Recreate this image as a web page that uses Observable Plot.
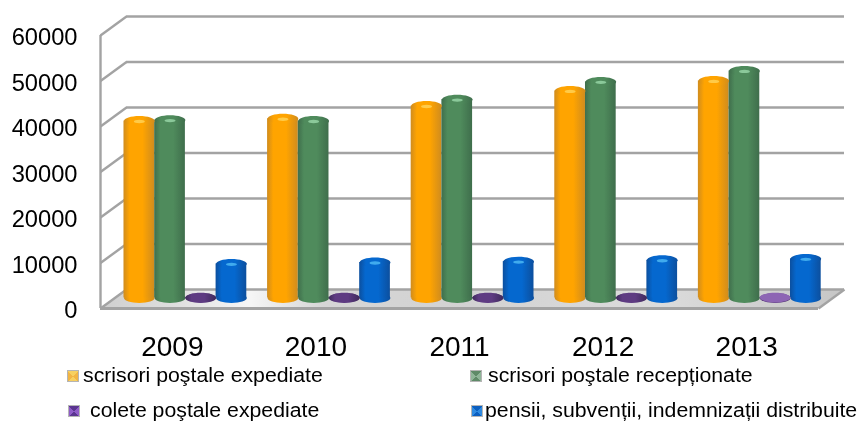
<!DOCTYPE html>
<html><head><meta charset="utf-8">
<script src="https://cdn.jsdelivr.net/npm/d3@7"></script>
<script src="https://cdn.jsdelivr.net/npm/@observablehq/plot@0.6"></script>
<style>
html,body{margin:0;padding:0;background:#fff;overflow:hidden}
#chart{position:relative;width:862px;height:421px;font-family:"Liberation Sans",Arial,sans-serif}
#chart svg{display:block;font-family:"Liberation Sans",Arial,sans-serif;filter:blur(.45px)}
.lg{position:absolute;font-size:19.5px;line-height:22px;color:#000;white-space:nowrap;filter:blur(.3px);transform:scaleX(1.09);transform-origin:left center}
.sw{position:absolute;width:10px;height:10px;border:1px solid #b5b5b5;filter:blur(.3px)}
</style></head><body><div id="chart"></div>
<script>
const years = ["2009","2010","2011","2012","2013"];
const seriesNames = ["scrisori poştale expediate","scrisori poştale recepționate","colete poştale expediate","pensii, subvenții, indemnizații distribuite"];
const expediate = [38900,39400,42200,45500,47700];
const receptionate = [39100,38900,43600,47500,49900];
const colete = [100,100,100,100,100];
const pensii = [7500,7800,8000,8300,8600];
const yTicks = [0,10000,20000,30000,40000,50000,60000];
const colorsEdge = ["#d08c1e","#3f6e4c","#3f2a5c","#0c4f9e"];
const colorsMid = ["#ffa400","#4f8b5c","#5e3b82","#0568cf"];
const colorsGlow = ["#ffd45a","#9ad8aa","#5e3b82","#4fbcf5"];
const swatchLight = ["#f2b544","#8fb598","#8f5cc8","#2f8ae0"];
const swatchDark = ["#f7d060","#5f8a68","#5a3590","#0b5fc0"];
const colorLight = "#8d65b4";
const gridColor = "#a3a3a3";

const depthX = 0.181, depthY = 4176, base = depthY/2 + 220;
const barW = 0.2138, barStart = 0.1635;
const seriesValues = [expediate, receptionate, colete, pensii];
const rows = seriesValues.flatMap((vals,s)=>vals.map((v,i)=>({s,i,v,
  x1:i+barStart+s*barW, x2:i+barStart+(s+1)*barW, xc:i+barStart+(s+.5)*barW,
  y0:base, yt:v+base})));
const ellipse = k => ({draw(ctx,size){
  const r=Math.sqrt(size/Math.PI), ry=r*k, c=0.5523;
  ctx.moveTo(-r,0);
  ctx.bezierCurveTo(-r,-c*ry,-c*r,-ry,0,-ry);
  ctx.bezierCurveTo(c*r,-ry,r,-c*ry,r,0);
  ctx.bezierCurveTo(r,c*ry,c*r,ry,0,ry);
  ctx.bezierCurveTo(-c*r,ry,-r,c*ry,-r,0);
  ctx.closePath();
}});
const defs = () => {
  const d = d3.create("svg:defs");
  colorsMid.forEach((m,s)=>{
    const g=d.append("linearGradient").attr("id","g"+s);
    [[0,colorsEdge[s]],[.2,m],[.62,m],[1,colorsEdge[s]]].forEach(([o,c])=>g.append("stop").attr("offset",o).attr("stop-color",c));
  });
  const f=d.append("linearGradient").attr("id","floor");
  [[0,"#cfcfcf"],[.1,"#dedede"],[.2,"#f6f6f6"],[.3,"#d6d6d6"],[.5,"#d2d2d2"],[.75,"#dcdcdc"],[1,"#c6c6c6"]].forEach(([o,c])=>f.append("stop").attr("offset",o).attr("stop-color",c));
  return d.node();
};
const floorPts = [{x1:0,y1:0,x2:depthX,y2:depthY},{x1:5,y1:0,x2:5+depthX,y2:depthY}];
const plot = Plot.plot({
  width:862,height:360,margin:0,
  x:{domain:[0,5+depthX],range:[100,844],axis:null},
  y:{domain:[0,60000+depthY],range:[308,16],axis:null},
  color:{type:"identity"},
  style:{background:"transparent",overflow:"visible"},
  marks:[
    defs,
    Plot.area(floorPts,{x1:"x1",y1:"y1",x2:"x2",y2:"y2",fill:"url(#floor)"}),
    Plot.ruleY(yTicks,{y:d=>d+depthY,x1:depthX,x2:5+depthX,stroke:gridColor,strokeWidth:2.4}),
    Plot.link(yTicks,{x1:0,x2:depthX,y1:d=>d,y2:d=>d+depthY,stroke:gridColor,strokeWidth:2.4}),
    Plot.ruleX([0],{y1:0,y2:60000,stroke:gridColor,strokeWidth:2.4}),
    Plot.ruleY([0],{x1:0,x2:5,stroke:gridColor,strokeWidth:2.8}),
    Plot.link([5],{x1:d=>d,x2:d=>d+depthX,y1:0,y2:depthY,stroke:gridColor,strokeWidth:2.4}),
    Plot.dot(rows,{x:"xc",y:"y0",r:15.35,symbol:ellipse(.32),fill:d=>`url(#g${d.s})`}),
    Plot.rect(rows,{x1:"x1",x2:"x2",y1:"y0",y2:"yt",fill:d=>`url(#g${d.s})`}),
    Plot.dot(rows,{x:"xc",y:"yt",r:15.35,symbol:ellipse(.32),fill:d=>d.s===2&&d.i===4?colorLight:`url(#g${d.s})`}),
    Plot.dot(rows.filter(d=>d.s!==2),{x:"xc",y:"yt",dy:0.5,r:5.5,symbol:ellipse(.3),fill:d=>colorsGlow[d.s],fillOpacity:.8}),
    Plot.text(yTicks,{x:0,y:d=>d,dx:-23,dy:2,text:d=>String(d),textAnchor:"end",fontSize:23.7,fill:"#000"}),
    Plot.text(years,{x:(d,i)=>i+.5,y:0,dy:39,text:d=>d,fontSize:28,fill:"#000"})
  ]
});
const host=document.getElementById("chart");
host.append(plot);
const lgPos=[[67,370,83,364],[470,370,488,364],[68,405,90,399],[471,405,485,399]];
seriesNames.forEach((n,i)=>{
  const [sx,sy,tx,ty]=lgPos[i];
  const sw=document.createElement("div");sw.className="sw";sw.style.left=sx+"px";sw.style.top=sy+"px";
  sw.style.background=`conic-gradient(from -45deg,${swatchDark[i]} 0 90deg,${swatchLight[i]} 90deg 180deg,${swatchDark[i]} 180deg 270deg,${swatchLight[i]} 270deg)`;
  const t=document.createElement("div");t.className="lg";t.style.left=tx+"px";t.style.top=ty+"px";t.textContent=n;
  host.append(sw,t);
});
</script></body></html>
